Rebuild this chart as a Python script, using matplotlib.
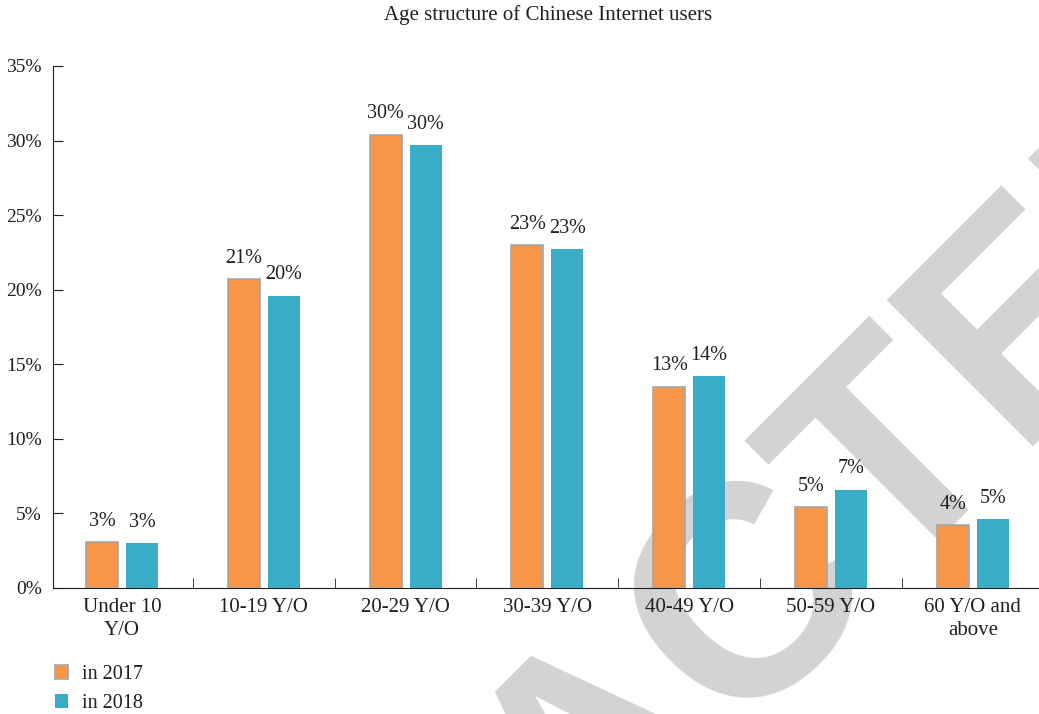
import numpy as np
import matplotlib.pyplot as plt

plt.rcParams['font.family'] = ['Liberation Serif', 'DejaVu Serif']

categories = ["Under 10\nY/O", "10-19 Y/O", "20-29 Y/O", "30-39 Y/O",
              "40-49 Y/O", "50-59 Y/O", "60 Y/O and\nabove"]
users_2017 = [3.1, 20.7, 30.4, 23.0, 13.5, 5.4, 4.2]
users_2018 = [3.0, 19.6, 29.7, 22.7, 14.2, 6.6, 4.6]
labels_2017 = ["3%", "21%", "30%", "23%", "13%", "5%", "4%"]
labels_2018 = ["3%", "20%", "30%", "23%", "14%", "7%", "5%"]
yticks = [0, 5, 10, 15, 20, 25, 30, 35]

c2017 = "#F79646"
c2018 = "#39ACC6"
txt = "#231f20"

fig = plt.figure(figsize=(10.39, 7.14), dpi=100)
ax = fig.add_axes([53 / 1039, 1 - 588 / 714, 993 / 1039, (588 - 66) / 714])

# watermark stamp behind the chart
fig.text(0.001, -1.043, "RETRACTED", rotation=45, rotation_mode="anchor",
         fontsize=216, color="#d3d3d3", family="Liberation Sans", fontweight="bold",
         ha="left", va="baseline", zorder=-1)
ax.set_facecolor("none")

x = np.arange(len(categories))
w = 0.226
off = 0.141
b1 = ax.bar(x - off, users_2017, w, color=c2017, edgecolor="#a6a6a6", linewidth=1.2,
            label="in 2017", zorder=3)
b2 = ax.bar(x + off, users_2018, w, color=c2018, edgecolor="none", label="in 2018", zorder=3)

for xi, v, t in zip(x, users_2017, labels_2017):
    ax.text(xi - off, v + 0.75, t, ha="center", va="bottom", fontsize=14.5, color=txt)
for xi, v, t in zip(x, users_2018, labels_2018):
    ax.text(xi + off, v + 0.75, t, ha="center", va="bottom", fontsize=14.5, color=txt)

ax.set_xlim(-0.4866, -0.4866 + 993 / 141.8)
ax.set_ylim(0, 35)
ax.set_yticks(yticks)
ax.set_yticklabels([f"{t}%" for t in yticks], fontsize=14, color=txt)
ax.set_xticks(x)
ax.set_xticklabels(categories, fontsize=15, color=txt, linespacing=1.3)
ax.set_xticks(np.arange(len(categories)) + 0.5, minor=True)
ax.tick_params(axis="x", which="major", length=0, pad=7)
ax.tick_params(axis="x", which="minor", direction="in", length=7, color=txt)
ax.tick_params(axis="y", direction="in", length=7, color=txt, pad=8)

for s in ["top", "right"]:
    ax.spines[s].set_visible(False)
ax.spines["left"].set_color(txt)
ax.spines["bottom"].set_color(txt)

fig.text(548 / 1039, 1 - 15 / 714, "Age structure of Chinese Internet users",
         ha="center", va="center", fontsize=15, color=txt)

leg = fig.legend(handles=[b1, b2], loc="upper left", bbox_to_anchor=(55 / 1039, 1 - 665 / 714),
                 frameon=False, fontsize=14.5, handlelength=0.65, handleheight=0.65,
                 labelspacing=0.5, handletextpad=0.7, borderpad=0, borderaxespad=0)
for t in leg.get_texts():
    t.set_color(txt)

fig.savefig("out.png", dpi=100)
